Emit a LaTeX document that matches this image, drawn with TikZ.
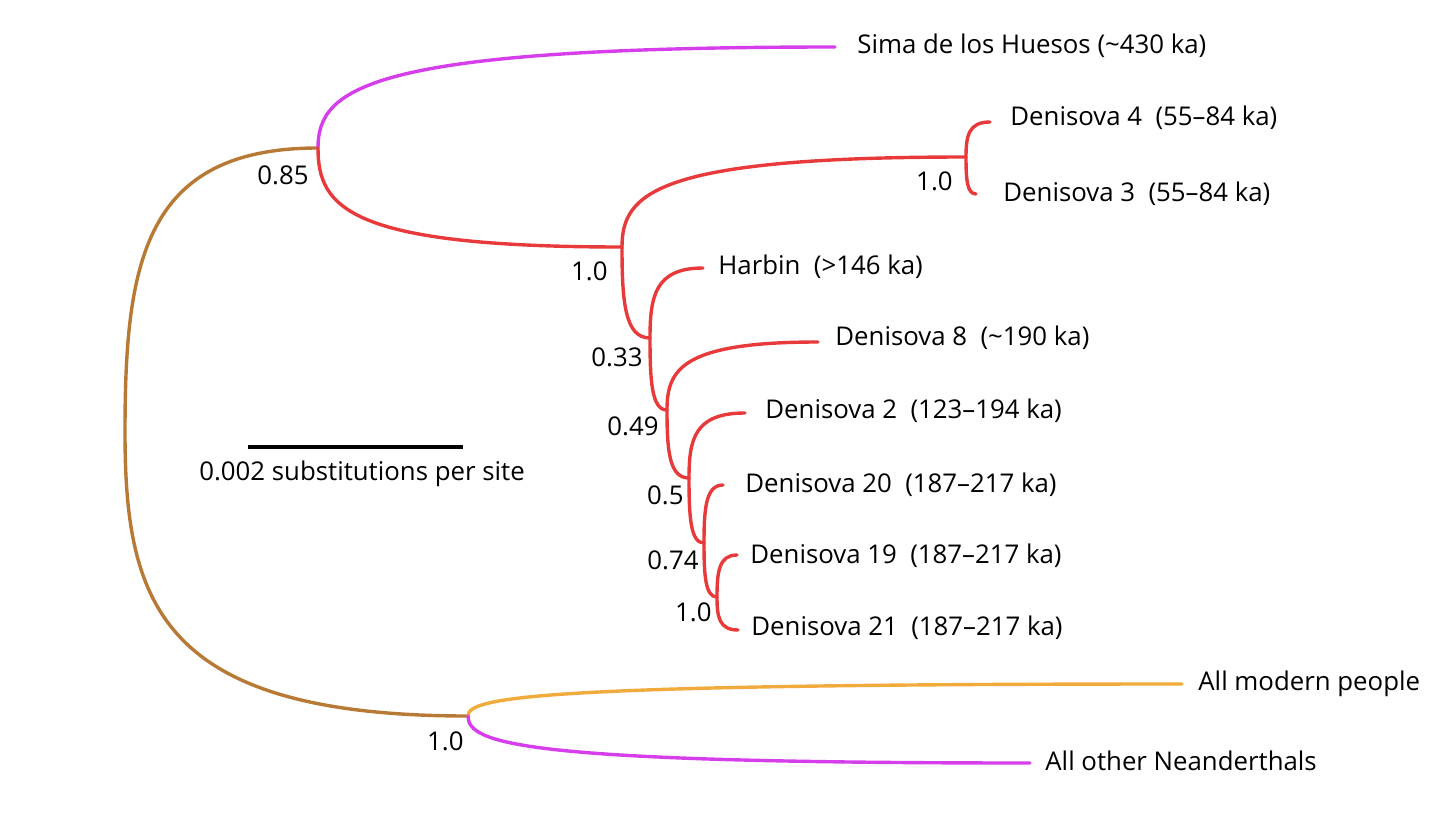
\documentclass[tikz,border=0pt]{standalone}
\usepackage{fontspec}
\setmainfont{Open Sans}
\usepackage{xcolor}
\usepackage{tikz}
\usetikzlibrary{calc}

\definecolor{treebrown}{HTML}{B77934}
\definecolor{treepurple}{HTML}{D63EEC}
\definecolor{treered}{HTML}{E83A3A}
\definecolor{treeorange}{HTML}{F1AA3C}

\begin{document}
\begin{tikzpicture}[x=0.5pt,y=-0.5pt,
        br/.style={line width=1.7pt, line cap=round,
            to path={.. controls ($(\tikztostart)!0.6!(\tikztostart |- \tikztotarget)$)
                and ($(\tikztotarget -| \tikztostart)!0.1!(\tikztotarget)$) .. (\tikztotarget)}},
        lab/.style={anchor=west, inner sep=0pt, font=\fontsize{12.9}{15}\selectfont},
        supp/.style={anchor=north east, inner sep=0pt, font=\fontsize{12.9}{15}\selectfont}]
        \useasboundingbox (0,0) rectangle (1456,819);

        % internal nodes
        \coordinate (root) at (125,432);
        \coordinate (n1) at (318,148);
        \coordinate (n2) at (622,247);
        \coordinate (n3) at (966,157);
        \coordinate (n4) at (650,338);
        \coordinate (n5) at (667,410);
        \coordinate (n6) at (689,478);
        \coordinate (n7) at (704,543);
        \coordinate (n8) at (717,597);
        \coordinate (n9) at (468,716);

        % tips
        \coordinate (sima) at (835,47);
        \coordinate (den4) at (990,122);
        \coordinate (den3) at (976,194);
        \coordinate (harbin) at (703,268);
        \coordinate (den8) at (818,342);
        \coordinate (den2) at (745,413);
        \coordinate (den20) at (723,485);
        \coordinate (den19) at (737,555);
        \coordinate (den21) at (738,630);
        \coordinate (modern) at (1182,684);
        \coordinate (nean) at (1030,763);

        \draw[br, treebrown] (root) to (n1);
        \draw[br, treebrown] (root) to (n9);
        \draw[br, treepurple] (n1) to (sima);
        \draw[br, treered] (n1) to (n2);
        \draw[br, treered] (n2) to (n3);
        \draw[br, treered] (n3) to (den4);
        \draw[br, treered] (n3) to (den3);
        \draw[br, treered] (n2) to (n4);
        \draw[br, treered] (n4) to (harbin);
        \draw[br, treered] (n4) to (n5);
        \draw[br, treered] (n5) to (den8);
        \draw[br, treered] (n5) to (n6);
        \draw[br, treered] (n6) to (den2);
        \draw[br, treered] (n6) to (n7);
        \draw[br, treered] (n7) to (den20);
        \draw[br, treered] (n7) to (n8);
        \draw[br, treered] (n8) to (den19);
        \draw[br, treered] (n8) to (den21);
        \draw[br, treeorange] (n9) to (modern);
        \draw[br, treepurple] (n9) to (nean);

        \node[lab] (simalab) at (857,46) {Sima de los Huesos (\textasciitilde430 ka)};
        \node[lab] (den4lab) at (1010,118) {Denisova 4\ \ (55\textendash84 ka)};
        \node[lab] (den3lab) at (1003,194) {Denisova 3\ \ (55\textendash84 ka)};
        \node[lab] (harbinlab) at (718,267) {Harbin\ \ (>146 ka)};
        \node[lab] (den8lab) at (835,338) {Denisova 8\ \ (\textasciitilde190 ka)};
        \node[lab] (den2lab) at (765,411) {Denisova 2\ \ (123\textendash194 ka)};
        \node[lab] (den20lab) at (745,485) {Denisova 20\ \ (187\textendash217 ka)};
        \node[lab] (den19lab) at (750,556) {Denisova 19\ \ (187\textendash217 ka)};
        \node[lab] (den21lab) at (751,628) {Denisova 21\ \ (187\textendash217 ka)};
        \node[lab] (modernlab) at (1198,684) {All modern people};
        \node[lab] (neanlab) at (1045,761) {All other Neanderthals};

        % support values
        \node[supp] (s1) at (309,165) {0.85};
        \node[supp] (s2) at (608,261) {1.0};
        \node[supp] (s3) at (953,171) {1.0};
        \node[supp] (s4) at (643,347) {0.33};
        \node[supp] (s5) at (659,416) {0.49};
        \node[supp] (s6) at (684,485) {0.5};
        \node[supp] (s7) at (699,550) {0.74};
        \node[supp] (s8) at (712,602) {1.0};
        \node[supp] (s9) at (464,731) {1.0};

        % scale bar
        \coordinate (sbl) at (248,447);
        \coordinate (sbr) at (463,447);
        \draw[line width=1.7pt] (sbl) -- (sbr);
        \node[anchor=north, inner sep=0pt, font=\fontsize{12.9}{15}\selectfont] (sblab) at (362,460) {0.002 substitutions per site};
    \end{tikzpicture}
\end{document}
